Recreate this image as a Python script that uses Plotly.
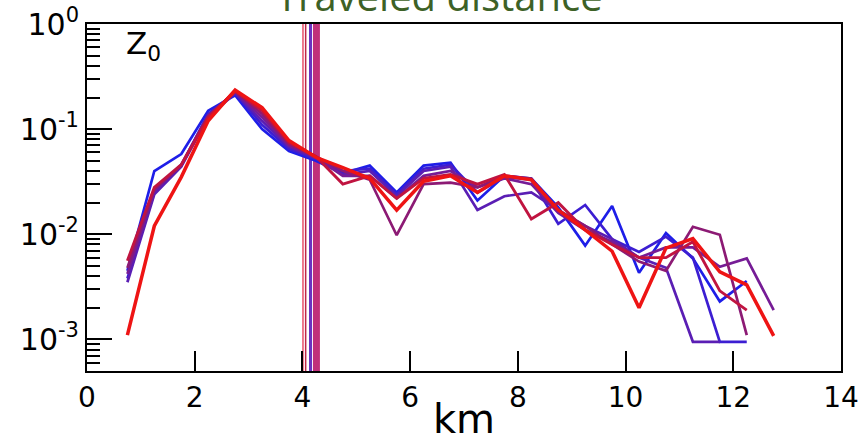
import plotly.graph_objects as go

# distance bins (km)
km = [0.75, 1.25, 1.75, 2.25, 2.75, 3.25, 3.75, 4.25, 4.75, 5.25, 5.75, 6.25, 6.75,
      7.25, 7.75, 8.25, 8.75, 9.25, 9.75, 10.25, 10.75, 11.25, 11.75, 12.25, 12.75]

s0 = [0.0045, 0.040, 0.058, 0.15, 0.21, 0.10, 0.062, 0.050, 0.038, 0.045, 0.025, 0.045, 0.048,
      0.021, 0.036, 0.034, 0.018, 0.0078, 0.0186, 0.0043, 0.0103, 0.0059, 0.0023, 0.0036]
s1 = [0.0038, 0.025, 0.045, 0.14, 0.22, 0.11, 0.065, 0.052, 0.040, 0.042, 0.024, 0.042, 0.046,
      0.025, 0.035, 0.033, 0.0126, 0.019, 0.009, 0.0068, 0.0095, 0.006, 0.00095, 0.00095]
s2 = [0.0035, 0.024, 0.044, 0.13, 0.22, 0.12, 0.068, 0.053, 0.037, 0.040, 0.023, 0.040, 0.044,
      0.017, 0.023, 0.025, 0.017, 0.012, 0.009, 0.006, 0.0048, 0.00095, 0.00095]
s3 = [0.0042, 0.026, 0.046, 0.135, 0.225, 0.13, 0.070, 0.054, 0.036, 0.036, 0.022, 0.036, 0.040,
      0.028, 0.034, 0.030, 0.016, 0.011, 0.0085, 0.006, 0.0075, 0.0075, 0.0049, 0.0059, 0.0019]
s4 = [0.0048, 0.027, 0.045, 0.13, 0.23, 0.14, 0.072, 0.055, 0.040, 0.033, 0.0098, 0.030, 0.031,
      0.028, 0.036, 0.034, 0.017, 0.012, 0.008, 0.0055, 0.0045, 0.0118, 0.0099, 0.0011]
s5 = [0.0056, 0.028, 0.046, 0.13, 0.23, 0.15, 0.075, 0.055, 0.030, 0.036, 0.022, 0.034, 0.037,
      0.030, 0.037, 0.014, 0.020, 0.011, 0.008, 0.006, 0.006, 0.0085, 0.0029, 0.0019]
s6 = [0.0011, 0.012, 0.035, 0.12, 0.235, 0.16, 0.078, 0.054, 0.043, 0.034, 0.017, 0.032, 0.036,
      0.025, 0.036, 0.033, 0.017, 0.011, 0.0069, 0.0020, 0.0074, 0.0091, 0.0044, 0.0033, 0.00108]

series = [s0, s1, s2, s3, s4, s5, s6]
colors = ["#1e1ee8", "#3c1ed2", "#5a1eb4", "#761c96", "#8c1a74", "#c01440", "#ee1414"]
widths = [2.7, 2.7, 2.7, 2.7, 2.7, 2.9, 3.5]

# mean traveled distance markers (km)
mean_km = [4.01, 4.06, 4.15, 4.26]
mean_colors = ["#e8506a", "#c02848", "#6a32c0", "#c0307a"]
mean_widths = [1.5, 1.5, 3, 7]

y_tickvals = [1e-3, 1e-2, 1e-1, 1]
y_ticktext = ["10<sup>-3</sup>", "10<sup>-2</sup>", "10<sup>-1</sup>", "10<sup>0</sup>"]
y_minor = [m * 10 ** e for e in range(-4, 0) for m in range(2, 10)]
x_tickvals = [0, 2, 4, 6, 8, 10, 12, 14]

fig = go.Figure()
for v, c, w in zip(mean_km, mean_colors, mean_widths):
    fig.add_shape(type="line", xref="x", yref="paper", x0=v, x1=v, y0=0, y1=1,
                  line=dict(color=c, width=w), layer="below")

for s, c, w in zip(series, colors, widths):
    fig.add_trace(go.Scatter(x=km[:len(s)], y=s, mode="lines",
                             line=dict(color=c, width=w), showlegend=False))

fig.add_annotation(text="Z<sub>0</sub>", xref="paper", yref="paper", x=0.05, y=1.0,
                   xanchor="left", yanchor="top", showarrow=False, borderpad=0,
                   font=dict(family="DejaVu Sans", size=31, color="black"))
fig.add_annotation(text="Traveled distance", xref="paper", yref="paper", x=0.467, y=1.0,
                   xanchor="center", yanchor="bottom", showarrow=False, borderpad=0,
                   font=dict(family="Open Sans", size=40, color="#3d6126"))

fig.update_layout(
    template="none",
    width=862, height=442,
    margin=dict(l=87, r=21, t=24, b=71, autoexpand=False),
    paper_bgcolor="white", plot_bgcolor="white",
    font=dict(family="DejaVu Sans", size=26, color="black"),
    xaxis=dict(range=[0, 14], tickmode="array", tickvals=x_tickvals, automargin=False,
               tickfont=dict(family="DejaVu Sans", size=28, color="black"),
               ticks="inside", ticklen=20, tickwidth=2, tickcolor="black",
               showline=True, linecolor="black", linewidth=2, mirror=True,
               showgrid=False, zeroline=False,
               title=dict(text="km", font=dict(family="DejaVu Sans", size=40), standoff=12)),
    yaxis=dict(type="log", range=[-3.3, 0.0], tickmode="array", automargin=False,
               tickvals=y_tickvals, ticktext=y_ticktext,
               tickfont=dict(family="DejaVu Sans", size=30, color="black"),
               ticks="inside", ticklen=25, tickwidth=2, tickcolor="black",
               minor=dict(tickmode="array", tickvals=y_minor, ticks="inside",
                          ticklen=13, tickwidth=1.5, tickcolor="black", showgrid=False),
               showline=True, linecolor="black", linewidth=2, mirror=True,
               showgrid=False, zeroline=False),
)

fig.write_html("out.html")
